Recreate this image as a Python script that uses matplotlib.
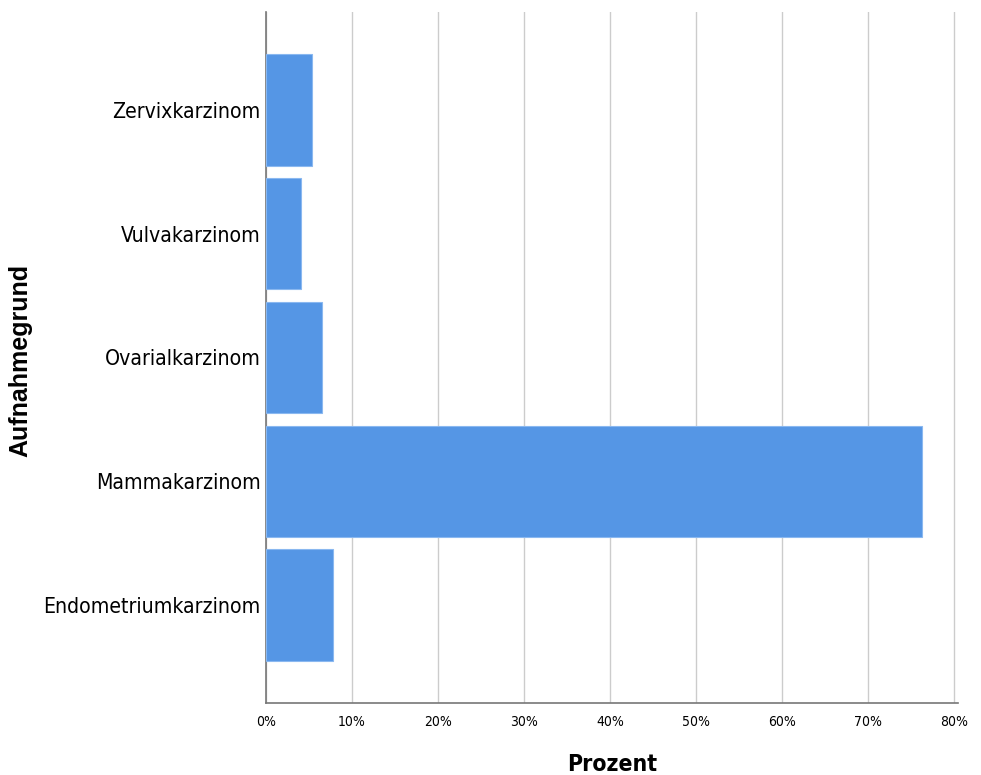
import matplotlib.pyplot as plt
from matplotlib.ticker import FuncFormatter

# data (percent), bottom to top
categories = ["Endometriumkarzinom", "Mammakarzinom", "Ovarialkarzinom",
              "Vulvakarzinom", "Zervixkarzinom"]
prozent = [7.8, 76.3, 6.5, 4.1, 5.3]
xticks = [0, 10, 20, 30, 40, 50, 60, 70, 80]

narrow = dict(family="DejaVu Sans", stretch="condensed")

fig = plt.figure(figsize=(9.81, 7.75), dpi=100)
ax = fig.add_axes([0.2712, 0.093, 0.7054, 0.8915])

ax.barh(range(len(categories)), prozent, height=0.9, color="#5596e5",
        edgecolor="#8ab8f0", linewidth=0.8, zorder=3)

ax.set_xlim(0, 80.5)
ax.set_ylim(-0.79, 4.79)
ax.set_xticks(xticks)
ax.xaxis.set_major_formatter(FuncFormatter(lambda v, p: f"{v:.0f}%"))
ax.set_yticks(range(len(categories)))
ax.set_yticklabels(categories, fontsize=15.2, **narrow)
for lab in ax.get_xticklabels():
    lab.set_family("DejaVu Sans")
    lab.set_stretch("condensed")
    lab.set_fontsize(10)

ax.grid(axis="x", color="#cccccc", linewidth=1, zorder=0)
ax.tick_params(length=0, pad=4)
ax.tick_params(axis="x", pad=9)
for s in ["top", "right"]:
    ax.spines[s].set_visible(False)
for s in ["left", "bottom"]:
    ax.spines[s].set_color("#777777")
    ax.spines[s].set_linewidth(1.2)

ax.set_xlabel("Prozent", fontsize=16.5, fontweight="bold", labelpad=17, **narrow)
fig.text(0.021, 0.535, "Aufnahmegrund", rotation=90, ha="center", va="center",
         family="Liberation Sans", fontsize=18, fontweight="bold")

plt.savefig("out.png")
